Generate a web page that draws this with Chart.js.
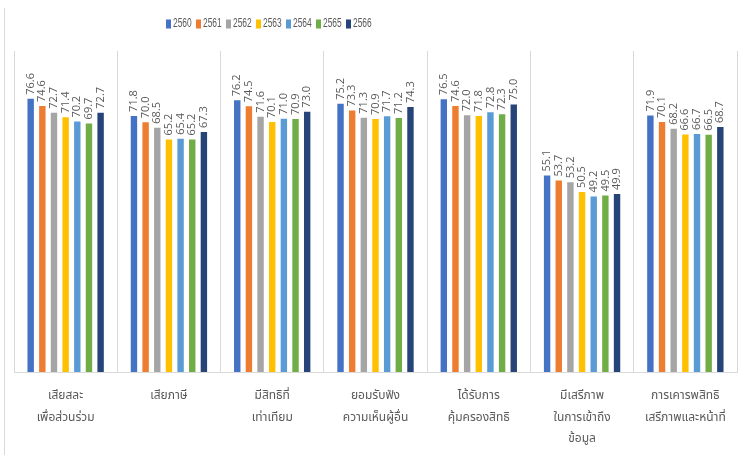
<!DOCTYPE html>
<html>
<head>
<meta charset="utf-8">
<script src="https://cdn.jsdelivr.net/npm/chart.js@4.4.0/dist/chart.umd.min.js"></script>
<style>
  html, body { margin: 0; padding: 0; background: #ffffff; }
  #wrap { position: relative; width: 741px; height: 455px; }
</style>
</head>
<body>
<div id="wrap"><canvas id="c" width="741" height="455"></canvas></div>
<script>
const categories = [
  ['เสียสละ', 'เพื่อส่วนร่วม'],
  ['เสียภาษี'],
  ['มีสิทธิที่', 'เท่าเทียม'],
  ['ยอมรับฟัง', 'ความเห็นผู้อื่น'],
  ['ได้รับการ', 'คุ้มครองสิทธิ'],
  ['มีเสรีภาพ', 'ในการเข้าถึง', 'ข้อมูล'],
  ['การเคารพสิทธิ', 'เสรีภาพและหน้าที่']
];
const seriesNames = ['2560', '2561', '2562', '2563', '2564', '2565', '2566'];
const y2560 = [76.6, 71.8, 76.2, 75.2, 76.5, 55.1, 71.9];
const y2561 = [74.6, 70.0, 74.5, 73.3, 74.6, 53.7, 70.1];
const y2562 = [72.7, 68.5, 71.6, 71.3, 72.0, 53.2, 68.2];
const y2563 = [71.4, 65.2, 70.1, 70.9, 71.8, 50.5, 66.6];
const y2564 = [70.2, 65.4, 71.0, 71.7, 72.8, 49.2, 66.7];
const y2565 = [69.7, 65.2, 70.9, 71.2, 72.3, 49.5, 66.5];
const y2566 = [72.7, 67.3, 73.0, 74.3, 75.0, 49.9, 68.7];
const seriesValues = [y2560, y2561, y2562, y2563, y2564, y2565, y2566];
const colors = ['#4472C4', '#ED7D31', '#A5A5A5', '#FFC000', '#5B9BD5', '#70AD47', '#264478'];

const thaiFont = "'Noto Sans Thai', 'Noto Sans Thai UI', Loma, Garuda, 'Tlwg Typo', 'Noto Sans', sans-serif";
const numFont = "'Liberation Sans', Arial, sans-serif";

const valueLabels = {
  id: 'valueLabels',
  afterDatasetsDraw(chart) {
    const ctx = chart.ctx;
    ctx.save();
    ctx.font = "11px " + "'Open Sans', 'Noto Sans', sans-serif";
    ctx.fillStyle = '#595959';
    ctx.textAlign = 'left';
    ctx.textBaseline = 'middle';
    chart.data.datasets.forEach((ds, i) => {
      const meta = chart.getDatasetMeta(i);
      meta.data.forEach((bar, j) => {
        ctx.save();
        ctx.translate(bar.x, bar.y - 4);
        ctx.rotate(-Math.PI / 2);
        ctx.fillText(ds.data[j].toFixed(1), 0, 0);
        ctx.restore();
      });
    });
    ctx.restore();
  }
};

const customLegend = {
  id: 'customLegend',
  afterDraw(chart) {
    const ctx = chart.ctx;
    ctx.save();
    // chart frame line on the left
    ctx.strokeStyle = '#d9d9d9';
    ctx.lineWidth = 1;
    ctx.beginPath();
    ctx.moveTo(4.5, 8);
    ctx.lineTo(4.5, 455);
    ctx.stroke();

    ctx.font = "12px " + numFont;
    ctx.textBaseline = 'middle';
    ctx.textAlign = 'left';
    let x = 166;
    const yc = 24;
    chart.data.datasets.forEach((ds) => {
      ctx.fillStyle = ds.backgroundColor;
      ctx.fillRect(x, yc - 4.5, 5, 9);
      ctx.fillStyle = '#595959';
      ctx.save();
      ctx.translate(x + 7, yc);
      ctx.scale(0.7, 1);
      ctx.fillText(ds.label, 0, 0);
      ctx.restore();
      x += 30;
    });
    ctx.restore();
  }
};

new Chart(document.getElementById('c'), {
  type: 'bar',
  data: {
    labels: categories,
    datasets: seriesNames.map((name, i) => ({
      label: name,
      data: seriesValues[i],
      backgroundColor: colors[i],
      borderWidth: 0,
      categoryPercentage: 0.79,
      barPercentage: 0.55
    }))
  },
  options: {
    responsive: false,
    animation: false,
    devicePixelRatio: 1,
    layout: { padding: { top: 51, left: 14, right: 4, bottom: 0 } },
    plugins: {
      legend: { display: false },
      tooltip: { enabled: false }
    },
    scales: {
      x: {
        grid: { display: true, offset: true, color: '#d9d9d9', drawTicks: false, lineWidth: 1 },
        border: { display: true, color: '#d9d9d9' },
        ticks: {
          color: '#595959',
          font: { family: thaiFont, size: 12, lineHeight: 1.8 },
          padding: 14,
          maxRotation: 0,
          autoSkip: false
        },
        afterFit(scale) { scale.height = 83; }
      },
      y: {
        display: false,
        min: 0,
        max: 90
      }
    }
  },
  plugins: [valueLabels, customLegend]
});
</script>
</body>
</html>
